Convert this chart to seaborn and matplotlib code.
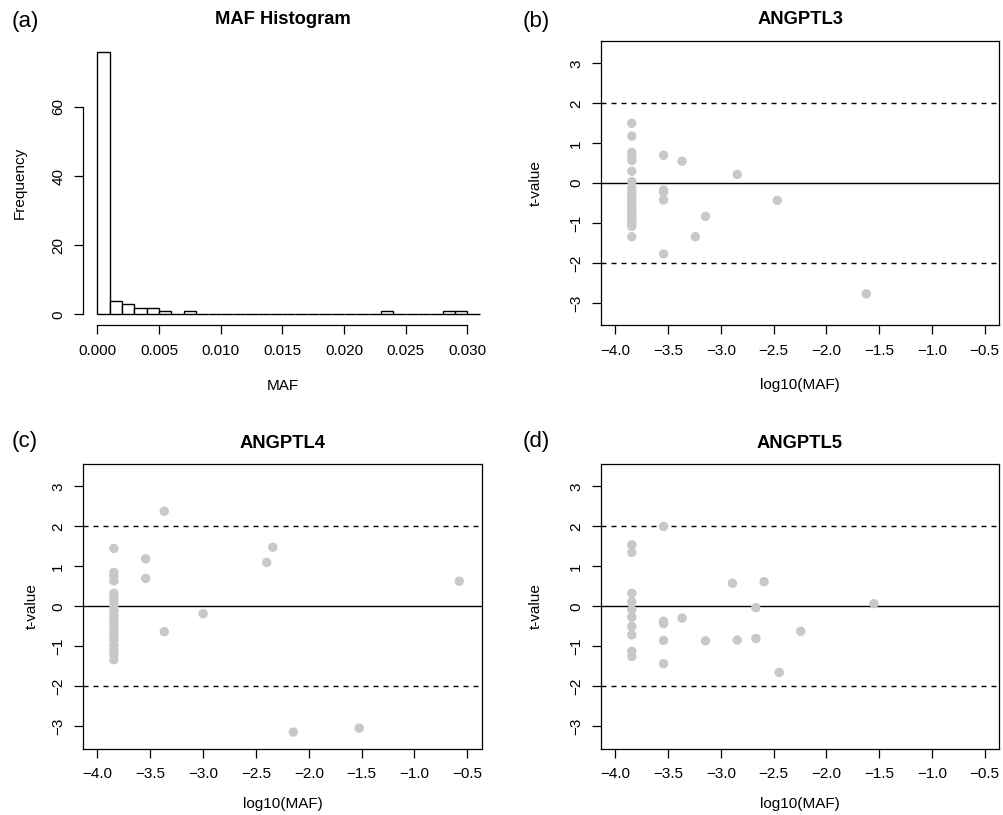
import numpy as np
import pandas as pd
import matplotlib
matplotlib.use("Agg")
import matplotlib.pyplot as plt
import seaborn as sns

# ---------------- data ----------------
maf_bin_width = 0.001
maf_bin_counts = [76, 4, 3, 2, 2, 1, 0, 1, 0, 0, 0, 0, 0, 0, 0, 0,
                  0, 0, 0, 0, 0, 0, 0, 1, 0, 0, 0, 0, 1, 1, 0]

angptl3_logmaf = [-3.845] * 21 + [-3.544] * 5 + [-3.368, -3.243, -3.146, -2.845, -2.465, -1.622]
angptl3_t = [1.5, 1.18, 0.77, 0.68, 0.57, 0.3, 0.04, -0.12, -0.22, -0.3, -0.38, -0.46,
             -0.55, -0.63, -0.7, -0.78, -0.86, -0.93, -1.0, -1.08, -1.34,
             0.7, -0.17, -0.23, -0.42, -1.77,
             0.55, -1.34, -0.83, 0.22, -0.43, -2.77]

angptl4_logmaf = [-3.845] * 20 + [-3.544] * 2 + [-3.368] * 2 + [-3.0, -2.398, -2.34, -2.146, -1.523, -0.575]
angptl4_t = [1.45, 0.85, 0.75, 0.64, 0.33, 0.22, 0.12, 0.02, -0.1, -0.22, -0.33, -0.43,
             -0.55, -0.65, -0.75, -0.85, -0.96, -1.1, -1.21, -1.33,
             1.19, 0.70,
             2.38, -0.63,
             -0.18, 1.1, 1.48, -3.14, -3.04, 0.63]

angptl5_logmaf = [-3.845] * 10 + [-3.544] * 5 + [-3.368, -3.146, -2.891, -2.845, -2.669, -2.669,
                                                  -2.59, -2.447, -2.243, -1.549]
angptl5_t = [1.54, 1.35, 0.33, 0.12, -0.08, -0.27, -0.5, -0.71, -1.12, -1.25,
             2.0, -0.37, -0.43, -0.85, -1.43,
             -0.29, -0.86, 0.58, -0.84, -0.03, -0.8, 0.62, -1.65, -0.62, 0.07]

x_ticks = [-4.0, -3.5, -3.0, -2.5, -2.0, -1.5, -1.0, -0.5]
y_ticks = [-3, -2, -1, 0, 1, 2, 3]
hist_x_ticks = [0.000, 0.005, 0.010, 0.015, 0.020, 0.025, 0.030]
hist_y_ticks = [0, 20, 40, 60]
titles = ["MAF Histogram", "ANGPTL3", "ANGPTL4", "ANGPTL5"]
panel_tags = ["(a)", "(b)", "(c)", "(d)"]

# ---------------- style ----------------
sns.set_theme(style="white")
plt.rcParams["font.family"] = ["Liberation Sans", "DejaVu Sans"]
plt.rcParams["axes.unicode_minus"] = True
plt.rcParams["text.color"] = "black"
plt.rcParams["axes.labelcolor"] = "black"
plt.rcParams["xtick.color"] = "black"
plt.rcParams["ytick.color"] = "black"

W, H = 1004, 815
fig = plt.figure(figsize=(W / 100, H / 100), dpi=100)


def px_axes(left, top, right, bottom):
    return fig.add_axes([left / W, 1 - bottom / H, (right - left) / W, (bottom - top) / H])


def ftext(x, y, s, **kw):
    fig.text(x / W, 1 - y / H, s, ha="center", va="center", color="black", **kw)


TICK_FS = 11
LAB_FS = 11
TITLE_FS = 13.2
TAG_FS = 16
PT_COLOR = "#c8c8c8"


def style_ticks(ax):
    ax.tick_params(axis="both", which="major", direction="out", length=6.5, width=0.9,
                   color="black", labelsize=TICK_FS, labelcolor="black",
                   bottom=True, left=True, top=False, right=False)
    ax.tick_params(axis="x", pad=7)
    ax.tick_params(axis="y", pad=6, labelrotation=90)
    for lab in ax.get_yticklabels():
        lab.set_va("center")


def fmt_minus(v, nd):
    s = f"{v:.{nd}f}"
    return s.replace("-", "\u2212")


# ---------------- panel (a) histogram ----------------
axA = px_axes(82.7, 41, 482, 325)
edges = [i * maf_bin_width for i in range(len(maf_bin_counts) + 1)]
centers = [(edges[i] + edges[i + 1]) / 2 for i in range(len(maf_bin_counts))]
hist_df = pd.DataFrame({"maf": centers, "count": maf_bin_counts})
sns.histplot(data=hist_df, x="maf", weights="count", bins=edges, ax=axA,
             color="white", edgecolor="black", linewidth=1.0, alpha=1.0)
axA.set_xlim(-0.0012, 0.0312)
axA.set_ylim(-3.04, 79.04)
axA.set_xticks(hist_x_ticks)
axA.set_xticklabels([f"{v:.3f}" for v in hist_x_ticks])
axA.set_yticks(hist_y_ticks)
axA.set_yticklabels([str(v) for v in hist_y_ticks])
for side in ["top", "right"]:
    axA.spines[side].set_visible(False)
axA.spines["left"].set_bounds(0, 60)
axA.spines["bottom"].set_bounds(0, 0.030)
for side in ["left", "bottom"]:
    axA.spines[side].set_color("black")
    axA.spines[side].set_linewidth(0.9)
axA.set_xlabel("")
axA.set_ylabel("")
style_ticks(axA)

# ---------------- scatter panels ----------------
scatter_data = [
    (angptl3_logmaf, angptl3_t, (600.7, 41, 999.3, 325)),
    (angptl4_logmaf, angptl4_t, (82.7, 464, 482, 748.5)),
    (angptl5_logmaf, angptl5_t, (600.7, 464, 999.3, 748.5)),
]
for xs, ys, box in scatter_data:
    ax = px_axes(*box)
    df = pd.DataFrame({"logmaf": xs, "t": ys})
    ax.axhline(0, color="black", lw=1.0, zorder=1)
    ax.axhline(2, color="black", lw=1.0, dashes=(3.6, 3.6), zorder=1)
    ax.axhline(-2, color="black", lw=1.0, dashes=(3.6, 3.6), zorder=1)
    sns.scatterplot(data=df, x="logmaf", y="t", ax=ax, color=PT_COLOR, s=46,
                    edgecolor="none", linewidth=0, zorder=3)
    ax.set_xlim(-4.14, -0.36)
    ax.set_ylim(-3.55, 3.56)
    ax.set_xticks(x_ticks)
    ax.set_xticklabels([fmt_minus(v, 1) for v in x_ticks])
    ax.set_yticks(y_ticks)
    ax.set_yticklabels([fmt_minus(v, 0) for v in y_ticks])
    for sp in ax.spines.values():
        sp.set_visible(True)
        sp.set_color("black")
        sp.set_linewidth(0.9)
    ax.set_xlabel("")
    ax.set_ylabel("")
    style_ticks(ax)

# ---------------- texts ----------------
# titles
ftext(282.4, 20, titles[0], fontsize=TITLE_FS, fontweight="bold")
ftext(800, 20, titles[1], fontsize=TITLE_FS, fontweight="bold")
ftext(282.4, 443, titles[2], fontsize=TITLE_FS, fontweight="bold")
ftext(800, 443, titles[3], fontsize=TITLE_FS, fontweight="bold")
# panel tags
ftext(25, 22, panel_tags[0], fontsize=TAG_FS)
ftext(536, 22, panel_tags[1], fontsize=TAG_FS)
ftext(25, 442, panel_tags[2], fontsize=TAG_FS)
ftext(536, 442, panel_tags[3], fontsize=TAG_FS)
# x labels
ftext(282.4, 386, "MAF", fontsize=LAB_FS)
ftext(800, 385, "log10(MAF)", fontsize=LAB_FS)
ftext(282.4, 804, "log10(MAF)", fontsize=LAB_FS)
ftext(800, 804, "log10(MAF)", fontsize=LAB_FS)
# y labels
ftext(20, 183, "Frequency", fontsize=LAB_FS, rotation=90)
ftext(536, 183, "t-value", fontsize=LAB_FS, rotation=90)
ftext(32, 606, "t-value", fontsize=LAB_FS, rotation=90)
ftext(536, 606, "t-value", fontsize=LAB_FS, rotation=90)

fig.savefig("out.png", dpi=100, facecolor="white")
